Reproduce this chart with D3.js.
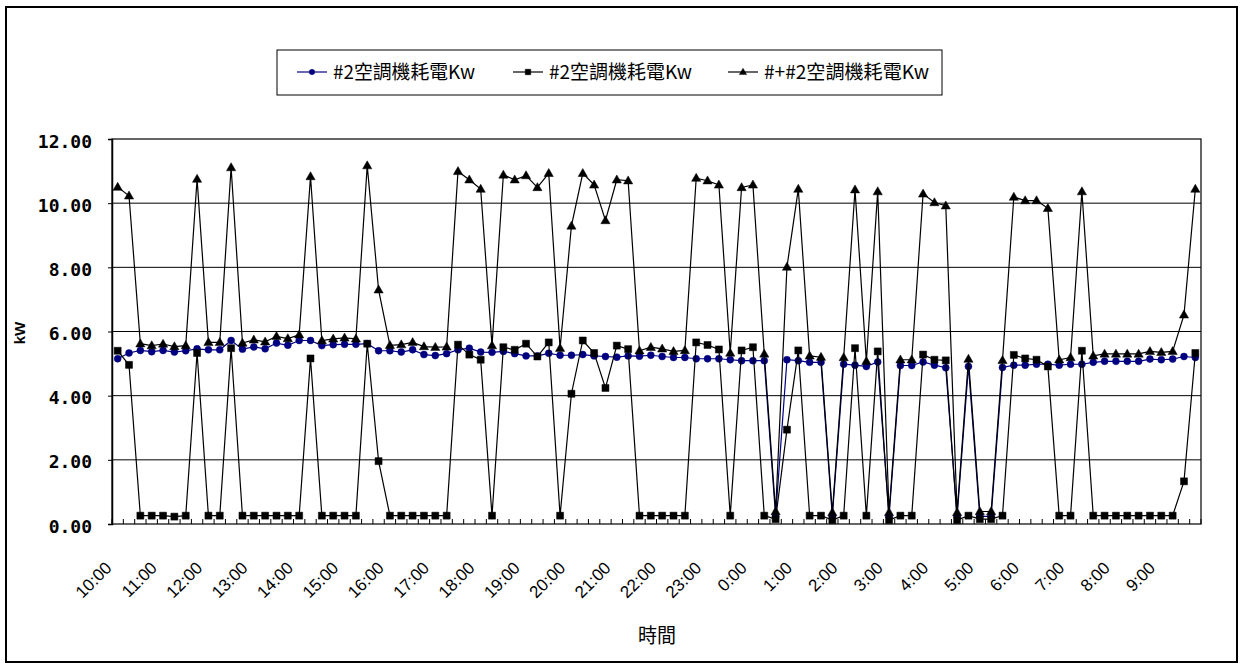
<!DOCTYPE html>
<html>
<head>
<meta charset="utf-8">
<script src="https://cdn.jsdelivr.net/npm/d3@7"></script>
<style>
  body { margin: 0; background: #fff; }
  svg { display: block; }
</style>
</head>
<body>
<div id="chart"></div>
<script>
const width = 1240;
const height = 669;

const plotLeft = 112;
const plotRight = 1201;
const plotTop = 139;
const plotBottom = 524;

// 96 readings, every 15 minutes from 10:00
const slotCount = 96;
const hourLabels = ['10:00','11:00','12:00','13:00','14:00','15:00','16:00','17:00','18:00','19:00',
  '20:00','21:00','22:00','23:00','0:00','1:00','2:00','3:00','4:00','5:00','6:00','7:00','8:00','9:00'];
const yTicks = [0, 2, 4, 6, 8, 10, 12];
const seriesNames = ['#2空調機耗電Kw', '#2空調機耗電Kw', '#+#2空調機耗電Kw'];

const unitA = [5.15,5.33,5.41,5.37,5.41,5.36,5.40,5.46,5.43,5.43,
  5.72,5.45,5.52,5.46,5.64,5.57,5.72,5.72,5.56,5.59,
  5.60,5.60,5.62,5.40,5.40,5.36,5.43,5.28,5.25,5.31,
  5.43,5.48,5.36,5.35,5.38,5.31,5.24,5.24,5.32,5.26,
  5.26,5.28,5.24,5.22,5.20,5.24,5.23,5.26,5.22,5.19,
  5.19,5.15,5.15,5.15,5.12,5.09,5.09,5.09,0.24,5.12,
  5.09,5.04,5.04,0.24,4.98,4.95,4.91,5.05,0.24,4.94,
  4.94,5.05,4.95,4.87,0.24,4.91,0.24,0.24,4.88,4.95,
  4.95,4.98,4.98,4.95,4.98,4.98,5.04,5.07,5.07,5.07,
  5.07,5.14,5.12,5.14,5.22,5.19];

const unitB = [5.40,4.96,0.26,0.26,0.26,0.23,0.26,5.33,0.26,0.26,
  5.48,0.26,0.26,0.26,0.26,0.26,0.26,5.16,0.26,0.26,
  0.26,0.26,5.62,1.96,0.26,0.26,0.26,0.26,0.26,0.26,
  5.59,5.28,5.12,0.26,5.51,5.43,5.62,5.22,5.66,0.26,
  4.06,5.72,5.33,4.24,5.56,5.45,0.26,0.26,0.26,0.26,
  0.26,5.66,5.58,5.44,0.26,5.41,5.51,0.26,0.15,2.94,
  5.41,0.26,0.26,0.12,0.26,5.48,0.26,5.38,0.12,0.26,
  0.26,5.28,5.12,5.10,0.12,0.26,0.15,0.15,0.26,5.27,
  5.16,5.12,4.91,0.26,0.26,5.40,0.26,0.26,0.26,0.26,
  0.26,0.26,0.26,0.26,1.33,5.33];

const unitTotal = [10.50,10.23,5.62,5.56,5.61,5.53,5.56,10.75,5.66,5.66,
  11.11,5.64,5.74,5.68,5.85,5.78,5.90,10.83,5.72,5.77,
  5.80,5.77,11.17,7.30,5.57,5.59,5.66,5.53,5.51,5.52,
  10.99,10.73,10.44,5.56,10.88,10.73,10.86,10.49,10.93,5.48,
  9.29,10.93,10.57,9.46,10.73,10.70,5.40,5.51,5.46,5.38,
  5.41,10.78,10.70,10.57,5.33,10.49,10.57,5.30,0.39,8.01,
  10.44,5.24,5.20,0.36,5.19,10.42,5.07,10.36,0.36,5.12,
  5.12,10.29,10.02,9.92,0.36,5.14,0.39,0.39,5.10,10.19,
  10.08,10.08,9.84,5.12,5.19,10.36,5.24,5.30,5.30,5.30,
  5.30,5.38,5.35,5.38,6.52,10.44];

const seriesColors = ['#000080', '#000000', '#000000'];
const seriesMarkers = ['circle', 'square', 'triangle'];
const legendX = [297, 513, 728];
const legendTextWidth = [142, 143, 165];

const cjkFont = '"Noto Sans CJK TC", "Noto Sans CJK JP", sans-serif';

function makeChart() {
  const svg = d3.select('#chart').append('svg')
    .attr('width', width).attr('height', height);

  svg.append('rect')
    .attr('x', 6).attr('y', 7).attr('width', 1231).attr('height', 655)
    .attr('fill', '#fff').attr('stroke', '#000').attr('stroke-width', 2);

  const x = d3.scaleBand().domain(d3.range(slotCount)).range([plotLeft, plotRight]);
  const cx = i => x(i) + x.bandwidth() / 2;
  const y = d3.scaleLinear().domain([0, 12]).range([plotBottom, plotTop]);

  // gridlines
  svg.append('g').selectAll('line').data(yTicks.slice(1, -1)).join('line')
    .attr('x1', plotLeft).attr('x2', plotRight)
    .attr('y1', d => y(d)).attr('y2', d => y(d))
    .attr('stroke', '#000').attr('stroke-width', 1);

  svg.append('rect')
    .attr('x', plotLeft).attr('y', plotTop)
    .attr('width', plotRight - plotLeft).attr('height', plotBottom - plotTop)
    .attr('fill', 'none').attr('stroke', '#000').attr('stroke-width', 1.2);

  // y axis
  const gy = svg.append('g')
    .attr('transform', translate(plotLeft, 0))
    .call(d3.axisLeft(y).tickValues(yTicks).tickFormat(d3.format('.2f')).tickSize(4).tickPadding(16));
  gy.select('.domain').attr('stroke-width', 1.5);
  gy.selectAll('text')
    .attr('font-family', '"DejaVu Sans Mono", monospace')
    .attr('font-weight', 'bold').attr('font-size', 18)
    .attr('fill', '#000').attr('dy', '0.45em');

  // category tick marks (inside, between slots)
  svg.append('g').selectAll('line').data(d3.range(slotCount + 1)).join('line')
    .attr('x1', i => plotLeft + i * x.step()).attr('x2', i => plotLeft + i * x.step())
    .attr('y1', plotBottom).attr('y2', plotBottom - 5)
    .attr('stroke', '#000').attr('stroke-width', 1);

  // x axis labels
  const gx = svg.append('g')
    .attr('transform', translate(0, plotBottom))
    .call(d3.axisBottom(x).tickValues(d3.range(0, slotCount, 4))
      .tickFormat(i => hourLabels[i / 4]).tickSize(0));
  gx.select('.domain').remove();
  gx.selectAll('text')
    .attr('font-family', '"Liberation Sans", Arial, sans-serif')
    .attr('font-size', 17).attr('fill', '#000')
    .attr('text-anchor', 'end').attr('y', 0).attr('dy', 0)
    .attr('transform', 'translate(-5,45) rotate(-45)');

  // axis titles
  svg.append('text')
    .attr('transform', translate(25, 333) + ' rotate(-90)')
    .attr('text-anchor', 'middle')
    .attr('font-family', '"Liberation Sans", Arial, sans-serif')
    .attr('font-weight', 'bold').attr('font-size', 15)
    .text('kW');

  svg.append('text')
    .attr('x', 638).attr('y', 643)
    .attr('font-family', cjkFont).attr('font-size', 20)
    .attr('textLength', 38).attr('lengthAdjust', 'spacingAndGlyphs')
    .text('時間');

  // series
  const line = d3.line().x((d, i) => cx(i)).y(d => y(d));
  [unitA, unitB, unitTotal].forEach((values, k) => {
    const g = svg.append('g');
    g.append('path').datum(values)
      .attr('d', line).attr('fill', 'none')
      .attr('stroke', seriesColors[k]).attr('stroke-width', 1.2);
    drawMarkers(g, values.map((v, i) => [cx(i), y(v)]), seriesMarkers[k], seriesColors[k]);
  });

  // legend
  const lg = svg.append('g');
  lg.append('rect')
    .attr('x', 277).attr('y', 50).attr('width', 665).attr('height', 45)
    .attr('fill', '#fff').attr('stroke', '#000').attr('stroke-width', 1);
  seriesNames.forEach((name, k) => {
    const lx = legendX[k];
    lg.append('line')
      .attr('x1', lx).attr('x2', lx + 30).attr('y1', 72).attr('y2', 72)
      .attr('stroke', seriesColors[k]).attr('stroke-width', 1.2);
    drawMarkers(lg, [[lx + 15, 72]], seriesMarkers[k], seriesColors[k], 0.8);
    lg.append('text')
      .attr('x', lx + 36).attr('y', 79)
      .attr('font-family', cjkFont).attr('font-size', 19)
      .attr('textLength', legendTextWidth[k]).attr('lengthAdjust', 'spacingAndGlyphs')
      .text(name);
  });
}

function drawMarkers(g, points, kind, color, scale = 1) {
  const sel = g.append('g').selectAll('path').data(points).join('path')
    .attr('transform', d => translate(d[0], d[1]) + ' scale(' + scale + ')')
    .attr('fill', color).attr('stroke', color).attr('stroke-width', 0.5);
  if (kind === 'circle') sel.attr('d', d3.symbol(d3.symbolCircle, 38)());
  else if (kind === 'square') sel.attr('d', 'M-3.5,-3.5H3.5V3.5H-3.5Z');
  else sel.attr('d', 'M0,-4.8L4.6,3.2L-4.6,3.2Z');
}

function translate(x, y) {
  return 'translate(' + x + ',' + y + ')';
}

makeChart();
</script>
</body>
</html>
